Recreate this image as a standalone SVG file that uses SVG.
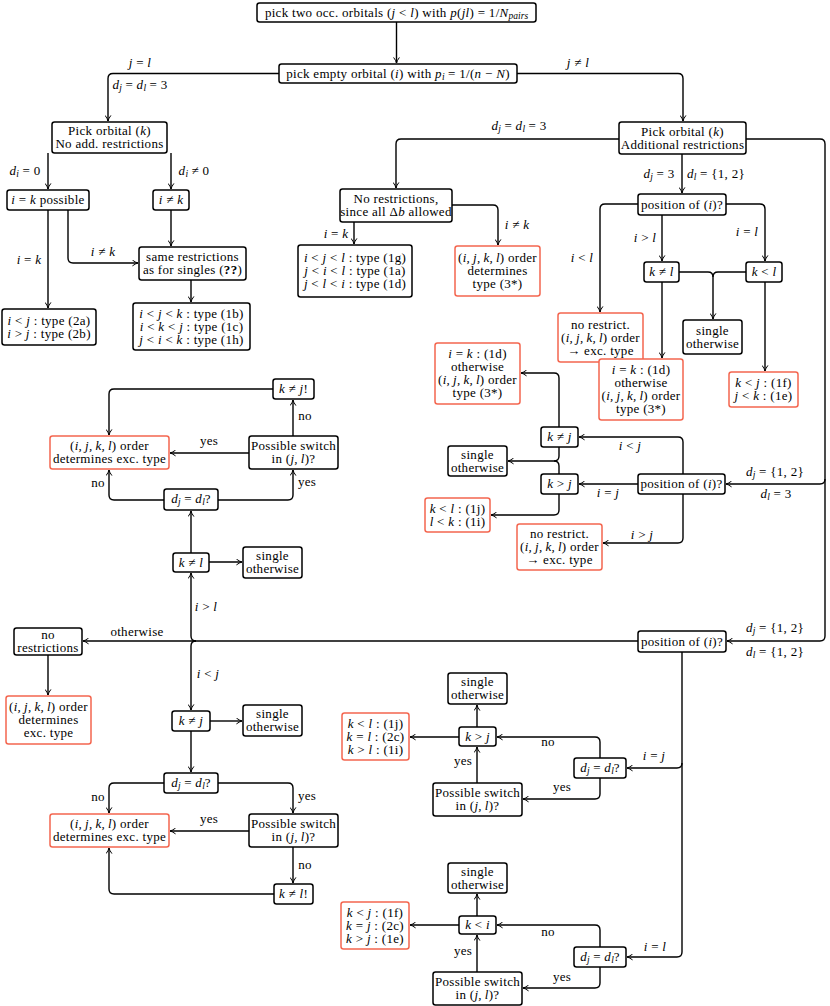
<svg xmlns="http://www.w3.org/2000/svg" width="830" height="1006" viewBox="0 0 830 1006" font-family="'Liberation Serif','Times New Roman','DejaVu Serif',serif">
<defs>
<marker id="a" viewBox="0 0 10 10" refX="9.5" refY="5" markerWidth="7" markerHeight="7" orient="auto" markerUnits="userSpaceOnUse"><path d="M2,1.2 Q6,4.2 9.5,5 Q6,5.8 2,8.8" fill="none" stroke="#000" stroke-width="1.4" stroke-linecap="round"/></marker>
<style>
.b{fill:#fff;stroke:#000;stroke-width:1.5}
.r{fill:#fff;stroke:#f4664f;stroke-width:1.5}
.c{fill:none;stroke:#000;stroke-width:1.4;marker-end:url(#a)}
.n{fill:none;stroke:#000;stroke-width:1.4}
text{font-family:"Liberation Serif","Times New Roman","DejaVu Serif",serif;font-size:13px;letter-spacing:0.3px;text-anchor:middle;fill:#000}
.i{font-style:italic}
.s{font-size:9.5px;font-style:italic;letter-spacing:0}
</style>
</defs>
<rect width="830" height="1006" fill="#fff"/>
<g id="connectors">
<path class="c" d="M396.5,22 V63"/>
<path class="c" d="M279,73.5 H113 Q108,73.5 108,78.5 V121"/>
<path class="c" d="M517,73.5 H678 Q683,73.5 683,78.5 V121"/>
<path class="c" d="M48,153 V189"/>
<path class="c" d="M171,153 V189"/>
<path class="c" d="M48,210 V308"/>
<path class="c" d="M68,210 V258 Q68,263 73,263 H138"/>
<path class="c" d="M171,210 V246"/>
<path class="c" d="M191,280 V302"/>
<path class="c" d="M619,139 H401 Q396,139 396,144 V188"/>
<path class="c" d="M354,222 V244"/>
<path class="c" d="M452,205 H493 Q498,205 498,210 V245"/>
<path class="c" d="M682,154 V193"/>
<path class="c" d="M638,204 H605 Q600,204 600,209 V312"/>
<path class="c" d="M662,215 V261"/>
<path class="c" d="M726,204 H760 Q765,204 765,209 V261"/>
<path class="c" d="M679,272 H708 Q713,272 713,277 V319"/>
<path class="n" d="M746,272 H718 Q713,272 713,277"/>
<path class="c" d="M662,282 V358"/>
<path class="c" d="M765,282 V371"/>
<path class="c" d="M746,139 H820 Q825,139 825,144 V636 Q825,641 820,641 H727"/>
<path class="c" d="M825,479 Q825,484 820,484 H726"/>
<path class="c" d="M683,474 V442 Q683,437 678,437 H579"/>
<path class="c" d="M638,484 H579"/>
<path class="c" d="M683,494 V538 Q683,543 678,543 H603"/>
<path class="c" d="M559,427 V378 Q559,373 554,373 H521"/>
<path class="c" d="M559,447 V456 Q559,461 554,461 H508"/>
<path class="n" d="M559,474 V466 Q559,461 554,461"/>
<path class="c" d="M559,494 V510 Q559,515 554,515 H491"/>
<path class="c" d="M273,389 H114 Q109,389 109,394 V435"/>
<path class="c" d="M293,436 V400"/>
<path class="c" d="M249,453 H170"/>
<path class="c" d="M164,500 H114 Q109,500 109,495 V470"/>
<path class="c" d="M218,500 H288 Q293,500 293,495 V470"/>
<path class="c" d="M191,553 V511"/>
<path class="c" d="M209,562 H242"/>
<path class="c" d="M638,641 H83"/>
<path class="c" d="M196,641 Q191,641 191,636 V573"/>
<path class="c" d="M196,641 Q191,641 191,646 V710"/>
<path class="c" d="M48,655 V695"/>
<path class="c" d="M210,721 H242"/>
<path class="c" d="M191,731 V772"/>
<path class="c" d="M164,783 H114 Q109,783 109,788 V813"/>
<path class="c" d="M218,783 H288 Q293,783 293,788 V813"/>
<path class="c" d="M249,831 H170"/>
<path class="c" d="M293,847 V883"/>
<path class="c" d="M274,894 H114 Q109,894 109,889 V848"/>
<path class="c" d="M682,652 V763 Q682,768 677,768 H627"/>
<path class="c" d="M682,763 V952 Q682,957 677,957 H627"/>
<path class="c" d="M600,758 V742 Q600,737 595,737 H497"/>
<path class="c" d="M459,737 H410"/>
<path class="c" d="M477,727 V705"/>
<path class="c" d="M600,778 V794 Q600,799 595,799 H523"/>
<path class="c" d="M477,783 V747"/>
<path class="c" d="M600,947 V930 Q600,925 595,925 H497"/>
<path class="c" d="M459,925 H410"/>
<path class="c" d="M477,916 V894"/>
<path class="c" d="M600,967 V983 Q600,988 595,988 H523"/>
<path class="c" d="M477,972 V935"/>
</g>
<g id="labels">
<text x="140" y="67"><tspan class="i">j</tspan> = <tspan class="i">l</tspan></text>
<text x="140" y="89"><tspan class="i">d</tspan><tspan class="s" dy="2">j</tspan><tspan dy="-2"> = </tspan><tspan class="i">d</tspan><tspan class="s" dy="2">l</tspan><tspan dy="-2"> = 3</tspan></text>
<text x="578" y="67"><tspan class="i">j</tspan> ≠ <tspan class="i">l</tspan></text>
<text x="25" y="175"><tspan class="i">d</tspan><tspan class="s" dy="2">i</tspan><tspan dy="-2"> = 0</tspan></text>
<text x="194" y="175"><tspan class="i">d</tspan><tspan class="s" dy="2">i</tspan><tspan dy="-2"> ≠ 0</tspan></text>
<text x="29" y="264"><tspan class="i">i</tspan> = <tspan class="i">k</tspan></text>
<text x="103" y="256"><tspan class="i">i</tspan> ≠ <tspan class="i">k</tspan></text>
<text x="519" y="130"><tspan class="i">d</tspan><tspan class="s" dy="2">j</tspan><tspan dy="-2"> = </tspan><tspan class="i">d</tspan><tspan class="s" dy="2">l</tspan><tspan dy="-2"> = 3</tspan></text>
<text x="659" y="178"><tspan class="i">d</tspan><tspan class="s" dy="2">j</tspan><tspan dy="-2"> = 3</tspan></text>
<text x="716" y="178"><tspan class="i">d</tspan><tspan class="s" dy="2">l</tspan><tspan dy="-2"> = {1, 2}</tspan></text>
<text x="336" y="238"><tspan class="i">i</tspan> = <tspan class="i">k</tspan></text>
<text x="517" y="229"><tspan class="i">i</tspan> ≠ <tspan class="i">k</tspan></text>
<text x="582" y="262"><tspan class="i">i</tspan> &lt; <tspan class="i">l</tspan></text>
<text x="645" y="242"><tspan class="i">i</tspan> &gt; <tspan class="i">l</tspan></text>
<text x="747" y="236"><tspan class="i">i</tspan> = <tspan class="i">l</tspan></text>
<text x="630" y="450"><tspan class="i">i</tspan> &lt; <tspan class="i">j</tspan></text>
<text x="608" y="497"><tspan class="i">i</tspan> = <tspan class="i">j</tspan></text>
<text x="642" y="539"><tspan class="i">i</tspan> &gt; <tspan class="i">j</tspan></text>
<text x="775" y="476"><tspan class="i">d</tspan><tspan class="s" dy="2">j</tspan><tspan dy="-2"> = {1, 2}</tspan></text>
<text x="776" y="498"><tspan class="i">d</tspan><tspan class="s" dy="2">l</tspan><tspan dy="-2"> = 3</tspan></text>
<text x="305" y="420">no</text>
<text x="209" y="445">yes</text>
<text x="98" y="487">no</text>
<text x="307" y="486">yes</text>
<text x="206" y="611"><tspan class="i">i</tspan> &gt; <tspan class="i">l</tspan></text>
<text x="137" y="636">otherwise</text>
<text x="208" y="678"><tspan class="i">i</tspan> &lt; <tspan class="i">j</tspan></text>
<text x="775" y="632"><tspan class="i">d</tspan><tspan class="s" dy="2">j</tspan><tspan dy="-2"> = {1, 2}</tspan></text>
<text x="775" y="656"><tspan class="i">d</tspan><tspan class="s" dy="2">l</tspan><tspan dy="-2"> = {1, 2}</tspan></text>
<text x="98" y="801">no</text>
<text x="307" y="800">yes</text>
<text x="209" y="823">yes</text>
<text x="305" y="869">no</text>
<text x="654" y="760"><tspan class="i">i</tspan> = <tspan class="i">j</tspan></text>
<text x="548" y="746">no</text>
<text x="463" y="765">yes</text>
<text x="562" y="791">yes</text>
<text x="655" y="951"><tspan class="i">i</tspan> = <tspan class="i">l</tspan></text>
<text x="548" y="936">no</text>
<text x="463" y="955">yes</text>
<text x="562" y="981">yes</text>
</g>
<g id="n_top"><rect class="b" x="257" y="3" width="279" height="19" rx="2.5"/><text x="396.5" y="16.5">pick two occ. orbitals (<tspan class="i">j</tspan> &lt; <tspan class="i">l</tspan>) with <tspan class="i">p</tspan>(<tspan class="i">jl</tspan>) = 1/<tspan class="i">N</tspan><tspan class="s" dy="2">pairs</tspan></text></g>
<g id="n_empty"><rect class="b" x="279" y="64" width="238" height="19" rx="2.5"/><text x="398" y="77.5">pick empty orbital (<tspan class="i">i</tspan>) with <tspan class="i">p</tspan><tspan class="s" dy="2">i</tspan><tspan dy="-2"> = 1/(</tspan><tspan class="i">n</tspan> − <tspan class="i">N</tspan>)</text></g>
<g id="n_pickA"><rect class="b" x="52" y="122" width="115" height="31" rx="2.5"/><text x="109.5" y="135">Pick orbital (<tspan class="i">k</tspan>)</text><text x="109.5" y="148">No add. restrictions</text></g>
<g id="n_pickB"><rect class="b" x="619" y="122" width="127" height="32" rx="2.5"/><text x="682.5" y="135.5">Pick orbital (<tspan class="i">k</tspan>)</text><text x="682.5" y="148.5">Additional restrictions</text></g>
<g id="n_ikposs"><rect class="b" x="7" y="190" width="82" height="20" rx="2.5"/><text x="48" y="204"><tspan class="i">i</tspan> = <tspan class="i">k</tspan> possible</text></g>
<g id="n_inek"><rect class="b" x="153" y="190" width="36" height="20" rx="2.5"/><text x="171" y="204"><tspan class="i">i</tspan> ≠ <tspan class="i">k</tspan></text></g>
<g id="n_same"><rect class="b" x="139" y="247" width="107" height="33" rx="2.5"/><text x="192.5" y="261">same restrictions</text><text x="192.5" y="274">as for singles (<tspan font-weight="bold">??</tspan>)</text></g>
<g id="n_2ab"><rect class="b" x="2" y="309" width="94" height="36" rx="2.5"/><text x="49" y="324.5"><tspan class="i">i</tspan> &lt; <tspan class="i">j</tspan> : type (2a)</text><text x="49" y="337.5"><tspan class="i">i</tspan> &gt; <tspan class="i">j</tspan> : type (2b)</text></g>
<g id="n_1bch"><rect class="b" x="133" y="303" width="117" height="47" rx="2.5"/><text x="191.5" y="317.5"><tspan class="i">i</tspan> &lt; <tspan class="i">j</tspan> &lt; <tspan class="i">k</tspan> : type (1b)</text><text x="191.5" y="330.5"><tspan class="i">i</tspan> &lt; <tspan class="i">k</tspan> &lt; <tspan class="i">j</tspan> : type (1c)</text><text x="191.5" y="343.5"><tspan class="i">j</tspan> &lt; <tspan class="i">i</tspan> &lt; <tspan class="i">k</tspan> : type (1h)</text></g>
<g id="n_norest"><rect class="b" x="340" y="189" width="112" height="33" rx="2.5"/><text x="396" y="203">No restrictions,</text><text x="396" y="216">since all Δ<tspan class="i">b</tspan> allowed</text></g>
<g id="n_1gad"><rect class="b" x="298" y="245" width="114" height="52" rx="2.5"/><text x="355" y="262"><tspan class="i">i</tspan> &lt; <tspan class="i">j</tspan> &lt; <tspan class="i">l</tspan> : type (1g)</text><text x="355" y="275"><tspan class="i">j</tspan> &lt; <tspan class="i">i</tspan> &lt; <tspan class="i">l</tspan> : type (1a)</text><text x="355" y="288"><tspan class="i">j</tspan> &lt; <tspan class="i">l</tspan> &lt; <tspan class="i">i</tspan> : type (1d)</text></g>
<g id="n_3star"><rect class="r" x="455" y="246" width="85" height="50" rx="2.5"/><text x="497.5" y="262">(<tspan class="i">i,&#8201;j,&#8201;k,&#8201;l</tspan>) order</text><text x="497.5" y="275">determines</text><text x="497.5" y="288">type (3*)</text></g>
<g id="n_posA"><rect class="b" x="638" y="194" width="88" height="21" rx="2.5"/><text x="682" y="208.5">position of (<tspan class="i">i</tspan>)?</text></g>
<g id="n_noresA"><rect class="r" x="558" y="313" width="85" height="49" rx="2.5"/><text x="600.5" y="328.5">no restrict.</text><text x="600.5" y="341.5">(<tspan class="i">i,&#8201;j,&#8201;k,&#8201;l</tspan>) order</text><text x="600.5" y="354.5">→ exc. type</text></g>
<g id="n_kneqlA"><rect class="b" x="644" y="262" width="35" height="20" rx="2.5"/><text x="661.5" y="276"><tspan class="i">k</tspan> ≠ <tspan class="i">l</tspan></text></g>
<g id="n_kltlA"><rect class="b" x="746" y="262" width="36" height="20" rx="2.5"/><text x="764" y="276"><tspan class="i">k</tspan> &lt; <tspan class="i">l</tspan></text></g>
<g id="n_singleA"><rect class="b" x="683" y="320" width="59" height="34" rx="2.5"/><text x="712.5" y="334.5">single</text><text x="712.5" y="347.5">otherwise</text></g>
<g id="n_1d_mid"><rect class="r" x="599" y="359" width="84" height="61" rx="2.5"/><text x="641" y="374"><tspan class="i">i</tspan> = <tspan class="i">k</tspan> : (1d)</text><text x="641" y="387">otherwise</text><text x="641" y="400">(<tspan class="i">i,&#8201;j,&#8201;k,&#8201;l</tspan>) order</text><text x="641" y="413">type (3*)</text></g>
<g id="n_1fe"><rect class="r" x="729" y="372" width="69" height="35" rx="2.5"/><text x="763.5" y="387"><tspan class="i">k</tspan> &lt; <tspan class="i">j</tspan> : (1f)</text><text x="763.5" y="400"><tspan class="i">j</tspan> &lt; <tspan class="i">k</tspan> : (1e)</text></g>
<g id="n_1d_left"><rect class="r" x="435" y="343" width="85" height="61" rx="2.5"/><text x="477.5" y="358"><tspan class="i">i</tspan> = <tspan class="i">k</tspan> : (1d)</text><text x="477.5" y="371">otherwise</text><text x="477.5" y="384">(<tspan class="i">i,&#8201;j,&#8201;k,&#8201;l</tspan>) order</text><text x="477.5" y="397">type (3*)</text></g>
<g id="n_kneqjB"><rect class="b" x="541" y="427" width="37" height="20" rx="2.5"/><text x="559.5" y="441"><tspan class="i">k</tspan> ≠ <tspan class="i">j</tspan></text></g>
<g id="n_singleB"><rect class="b" x="448" y="446" width="59" height="30" rx="2.5"/><text x="477.5" y="458.5">single</text><text x="477.5" y="471.5">otherwise</text></g>
<g id="n_kgtjB"><rect class="b" x="541" y="474" width="37" height="20" rx="2.5"/><text x="559.5" y="488"><tspan class="i">k</tspan> &gt; <tspan class="i">j</tspan></text></g>
<g id="n_posB"><rect class="b" x="638" y="474" width="87" height="20" rx="2.5"/><text x="681.5" y="488">position of (<tspan class="i">i</tspan>)?</text></g>
<g id="n_1jiB"><rect class="r" x="425" y="498" width="65" height="34" rx="2.5"/><text x="457.5" y="512.5"><tspan class="i">k</tspan> &lt; <tspan class="i">l</tspan> : (1j)</text><text x="457.5" y="525.5"><tspan class="i">l</tspan> &lt; <tspan class="i">k</tspan> : (1i)</text></g>
<g id="n_noresB"><rect class="r" x="517" y="524" width="85" height="46" rx="2.5"/><text x="559.5" y="538">no restrict.</text><text x="559.5" y="551">(<tspan class="i">i,&#8201;j,&#8201;k,&#8201;l</tspan>) order</text><text x="559.5" y="564">→ exc. type</text></g>
<g id="n_kneqj_excl"><rect class="b" x="273" y="379" width="41" height="20" rx="2.5"/><text x="293.5" y="393"><tspan class="i">k</tspan> ≠ <tspan class="i">j</tspan>!</text></g>
<g id="n_redL1"><rect class="r" x="50" y="436" width="119" height="33" rx="2.5"/><text x="109.5" y="450">(<tspan class="i">i,&#8201;j,&#8201;k,&#8201;l</tspan>) order</text><text x="109.5" y="463">determines exc. type</text></g>
<g id="n_switchL1"><rect class="b" x="249" y="436" width="89" height="33" rx="2.5"/><text x="293.5" y="450">Possible switch</text><text x="293.5" y="463">in (<tspan class="i">j,&#8201;l</tspan>)?</text></g>
<g id="n_djdlL1"><rect class="b" x="164" y="489" width="54" height="21" rx="2.5"/><text x="191" y="503"><tspan class="i">d</tspan><tspan class="s" dy="2">j</tspan><tspan dy="-2"> = </tspan><tspan class="i">d</tspan><tspan class="s" dy="2">l</tspan><tspan dy="-2">?</tspan></text></g>
<g id="n_kneqlL"><rect class="b" x="173" y="553" width="36" height="19" rx="2.5"/><text x="191" y="566.5"><tspan class="i">k</tspan> ≠ <tspan class="i">l</tspan></text></g>
<g id="n_singleL1"><rect class="b" x="243" y="547" width="59" height="31" rx="2.5"/><text x="272.5" y="560">single</text><text x="272.5" y="573">otherwise</text></g>
<g id="n_posC"><rect class="b" x="638" y="631" width="88" height="21" rx="2.5"/><text x="682" y="645.5">position of (<tspan class="i">i</tspan>)?</text></g>
<g id="n_norestC"><rect class="b" x="14" y="628" width="68" height="27" rx="2.5"/><text x="48" y="639">no</text><text x="48" y="652">restrictions</text></g>
<g id="n_redC"><rect class="r" x="6" y="696" width="85" height="48" rx="2.5"/><text x="48.5" y="711">(<tspan class="i">i,&#8201;j,&#8201;k,&#8201;l</tspan>) order</text><text x="48.5" y="724">determines</text><text x="48.5" y="737">exc. type</text></g>
<g id="n_kneqjL"><rect class="b" x="172" y="711" width="38" height="20" rx="2.5"/><text x="191" y="725"><tspan class="i">k</tspan> ≠ <tspan class="i">j</tspan></text></g>
<g id="n_singleL2"><rect class="b" x="243" y="705" width="59" height="31" rx="2.5"/><text x="272.5" y="718">single</text><text x="272.5" y="731">otherwise</text></g>
<g id="n_djdlL2"><rect class="b" x="164" y="773" width="54" height="20" rx="2.5"/><text x="191" y="787"><tspan class="i">d</tspan><tspan class="s" dy="2">j</tspan><tspan dy="-2"> = </tspan><tspan class="i">d</tspan><tspan class="s" dy="2">l</tspan><tspan dy="-2">?</tspan></text></g>
<g id="n_redL2"><rect class="r" x="50" y="814" width="119" height="33" rx="2.5"/><text x="109.5" y="828">(<tspan class="i">i,&#8201;j,&#8201;k,&#8201;l</tspan>) order</text><text x="109.5" y="841">determines exc. type</text></g>
<g id="n_switchL2"><rect class="b" x="249" y="814" width="89" height="33" rx="2.5"/><text x="293.5" y="828">Possible switch</text><text x="293.5" y="841">in (<tspan class="i">j,&#8201;l</tspan>)?</text></g>
<g id="n_kneql_excl"><rect class="b" x="274" y="884" width="39" height="20" rx="2.5"/><text x="293.5" y="898"><tspan class="i">k</tspan> ≠ <tspan class="i">l</tspan>!</text></g>
<g id="n_singleR1"><rect class="b" x="448" y="673" width="59" height="31" rx="2.5"/><text x="477.5" y="686">single</text><text x="477.5" y="699">otherwise</text></g>
<g id="n_kgtjR"><rect class="b" x="459" y="727" width="37" height="19" rx="2.5"/><text x="477.5" y="740.5"><tspan class="i">k</tspan> &gt; <tspan class="i">j</tspan></text></g>
<g id="n_redR1"><rect class="r" x="342" y="713" width="67" height="47" rx="2.5"/><text x="375.5" y="727.5"><tspan class="i">k</tspan> &lt; <tspan class="i">l</tspan> : (1j)</text><text x="375.5" y="740.5"><tspan class="i">k</tspan> = <tspan class="i">l</tspan> : (2c)</text><text x="375.5" y="753.5"><tspan class="i">k</tspan> &gt; <tspan class="i">l</tspan> : (1i)</text></g>
<g id="n_djdlR1"><rect class="b" x="574" y="758" width="52" height="20" rx="2.5"/><text x="600" y="772"><tspan class="i">d</tspan><tspan class="s" dy="2">j</tspan><tspan dy="-2"> = </tspan><tspan class="i">d</tspan><tspan class="s" dy="2">l</tspan><tspan dy="-2">?</tspan></text></g>
<g id="n_switchR1"><rect class="b" x="433" y="783" width="89" height="33" rx="2.5"/><text x="477.5" y="797">Possible switch</text><text x="477.5" y="810">in (<tspan class="i">j,&#8201;l</tspan>)?</text></g>
<g id="n_singleR2"><rect class="b" x="448" y="863" width="59" height="30" rx="2.5"/><text x="477.5" y="875.5">single</text><text x="477.5" y="888.5">otherwise</text></g>
<g id="n_kltiR"><rect class="b" x="459" y="916" width="37" height="18" rx="2.5"/><text x="477.5" y="929"><tspan class="i">k</tspan> &lt; <tspan class="i">i</tspan></text></g>
<g id="n_redR2"><rect class="r" x="341" y="902" width="68" height="47" rx="2.5"/><text x="375" y="916.5"><tspan class="i">k</tspan> &lt; <tspan class="i">j</tspan> : (1f)</text><text x="375" y="929.5"><tspan class="i">k</tspan> = <tspan class="i">j</tspan> : (2c)</text><text x="375" y="942.5"><tspan class="i">k</tspan> &gt; <tspan class="i">j</tspan> : (1e)</text></g>
<g id="n_djdlR2"><rect class="b" x="574" y="947" width="52" height="20" rx="2.5"/><text x="600" y="961"><tspan class="i">d</tspan><tspan class="s" dy="2">j</tspan><tspan dy="-2"> = </tspan><tspan class="i">d</tspan><tspan class="s" dy="2">l</tspan><tspan dy="-2">?</tspan></text></g>
<g id="n_switchR2"><rect class="b" x="433" y="972" width="89" height="33" rx="2.5"/><text x="477.5" y="986">Possible switch</text><text x="477.5" y="999">in (<tspan class="i">j,&#8201;l</tspan>)?</text></g>
</svg>
